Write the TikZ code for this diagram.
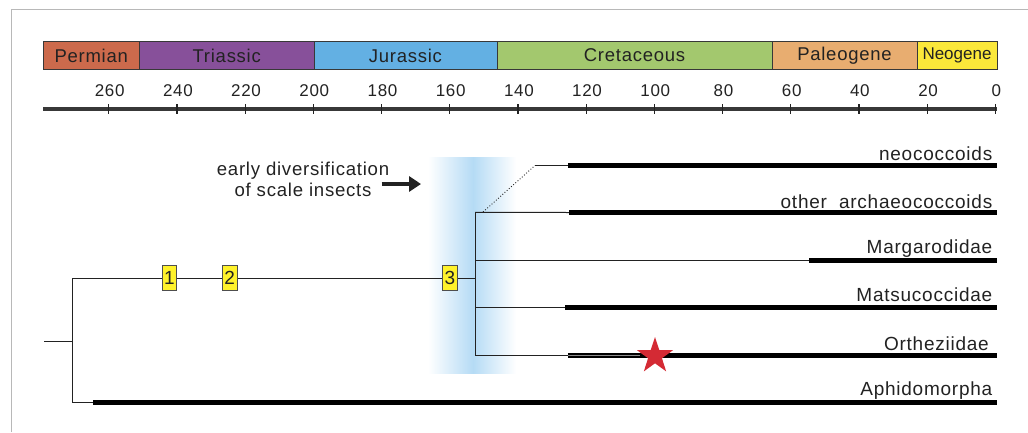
\documentclass[tikz,border=0pt]{standalone}
\usepackage{fontspec}
\setmainfont[LetterSpace=4]{Liberation Sans}
\newfontfamily\plainfont{Liberation Sans}
\usetikzlibrary{shapes.geometric,arrows.meta}
\definecolor{txt}{HTML}{222222}
\definecolor{cperm}{HTML}{CC6A4C}
\definecolor{ctri}{HTML}{87509A}
\definecolor{cjur}{HTML}{63B0E3}
\definecolor{ccre}{HTML}{A3C86E}
\definecolor{cpal}{HTML}{E8AD70}
\definecolor{cneo}{HTML}{FBE83A}
\definecolor{band}{HTML}{B5DBF5}
\definecolor{starred}{HTML}{D42A34}
\definecolor{boxy}{HTML}{FFF22B}
\tikzset{
  period/.style={draw=txt!90, line width=0.9pt, minimum height=28pt, inner sep=0pt, text=txt, font=\fontsize{18.5}{20}\selectfont},
  tick/.style={line width=1.2pt, draw=txt},
  ticklab/.style={anchor=base, text=txt, font=\fontsize{17}{19}\selectfont, inner sep=0pt},
  thin/.style={line width=1pt, draw=txt},
  thick/.style={line width=4.5pt, draw=black},
  taxon/.style={anchor=base east, text=txt, font=\fontsize{19}{20}\selectfont, inner sep=0pt},
  numbox/.style={fill=boxy, draw=txt!80, line width=0.8pt, minimum width=14.5pt, minimum height=25pt, inner sep=0pt, text=txt, font=\plainfont\fontsize{19}{20}\selectfont},
}
\begin{document}
\begin{tikzpicture}[x=1pt,y=-1pt]
\useasboundingbox (0,0) rectangle (1028,432);
% frame
\draw[line width=1pt, draw=black!28] (11.5,432) -- (11.5,9) -- (1028,9);
% period bar
\node[period, fill=cperm, minimum width=96.5pt] (perm) at (91.25,55.5) {Permian};
\node[period, fill=ctri, minimum width=174.5pt] (tri) at (226.75,55.5) {Triassic};
\node[period, fill=cjur, minimum width=183pt] (jur) at (405.5,55.5) {Jurassic};
\node[period, fill=ccre, minimum width=275pt] (cre) at (634.5,55.5) {Cretaceous};
\node[period, fill=cpal, minimum width=145pt] (pal) at (844.5,55.5) {Paleogene};
\node[period, fill=cneo, minimum width=80pt, font=\plainfont\fontsize{17}{19}\selectfont] (neo) at (957,55.5) {Neogene};
% axis
\coordinate (axl) at (43,108.5);
\coordinate (axr) at (997,108.5);
\draw[line width=4pt, draw=txt!90] (axl) -- (axr);
\foreach \t/\lab in {260/260,240/240,220/220,200/200,180/180,160/160,140/140,120/120,100/100,80/80,60/60,40/40,20/20,0/0}{
  \coordinate (tk\t) at ({995.3-3.41*\t},108.5);
  \draw[tick] ([yshift=4.5pt]tk\t) -- ([yshift=-5.5pt]tk\t);
  \node[ticklab] (lab\t) at ([yshift=11.8pt,xshift=1pt]tk\t) {\lab};
}
% blue band
\shade[left color=white, right color=band] (428,157) rectangle (473,373);
\shade[left color=band, right color=white] (473,157) rectangle (516,373);
% annotation
\node[anchor=base, text=txt, font=\fontsize{18.6}{21.7}\selectfont, align=center, inner sep=0pt] (ann) at (303,196.7) {early diversification\\of scale insects};
\coordinate (arA) at (381.5,184);
\coordinate (arB) at (421,184);
\draw[line width=4pt, draw=txt, -{Triangle[length=12pt,width=15pt]}] (arA) -- (arB);
% tree coordinates
\coordinate (root) at (44,341);
\coordinate (n0) at (72.3,341);
\coordinate (n0t) at (72.3,278.3);
\coordinate (n0b) at (72.3,402.7);
\coordinate (n1) at (475,278.3);
\coordinate (n1t) at (475,212.3);
\coordinate (n1b) at (475,355.3);
\coordinate (dotA) at (483,212);
\coordinate (dotB) at (535,165.5);
% stem and root
\draw[thin] (root) -- (n0);
\draw[thin] (n0t) -- (n0b);
\draw[thin] (n0t) -- (n1);
\draw[thin] (n1t) -- (n1b);
% boxes
\node[numbox] (b1) at (169.5,278.3) {1};
\node[numbox] (b2) at (229.7,278.3) {2};
\node[numbox] (b3) at (450,278.3) {3};
% neococcoids
\coordinate (neoS) at (568.3,165.5);
\coordinate (neoE) at (997,165.5);
\draw[line width=0.9pt, draw=txt, dotted] (dotA) -- (dotB);
\draw[thin] (dotB) -- (neoS);
\draw[thick] (neoS) -- (neoE);
\node[taxon] (tneo) at (992.5,160.7) {neococcoids};
% other archaeococcoids
\coordinate (oaS) at (569.3,212.5);
\coordinate (oaE) at (997,212.5);
\draw[thin] (n1t) -- (oaS);
\draw[thick] (oaS) -- (oaE);
\node[taxon] (toa) at (992.5,208.3) {other\ \ archaeococcoids};
% Margarodidae
\coordinate (mgN) at (475,260.7);
\coordinate (mgS) at (809.3,260.7);
\coordinate (mgE) at (997,260.7);
\draw[thin] (mgN) -- (mgS);
\draw[thick] (mgS) -- (mgE);
\node[taxon] (tmg) at (992.5,253.3) {Margarodidae};
% Matsucoccidae
\coordinate (maN) at (475,307.3);
\coordinate (maS) at (565,307.3);
\coordinate (maE) at (997,307.3);
\draw[thin] (maN) -- (maS);
\draw[thick] (maS) -- (maE);
\node[taxon] (tma) at (992.5,301.7) {Matsucoccidae};
% Ortheziidae
\coordinate (orS) at (568.3,355.3);
\coordinate (orM) at (640,355.3);
\coordinate (orE) at (997,355.3);
\draw[thin] (n1b) -- (orS);
\draw[thick] (orS) -- (orE);
\draw[line width=1.1pt, draw=black!45] (orS) -- (orM);
\node[star, star points=5, star point ratio=2.6, fill=starred, minimum size=38pt, inner sep=0pt] (star) at (655,356) {};
\node[taxon] (tor) at (989,350) {Ortheziidae};
% Aphidomorpha
\coordinate (apS) at (93.3,402.7);
\coordinate (apE) at (997,402.7);
\draw[thin] (n0b) -- (apS);
\draw[thick] (apS) -- (apE);
\node[taxon] (tap) at (992.5,395.7) {Aphidomorpha};
\end{tikzpicture}
\end{document}
